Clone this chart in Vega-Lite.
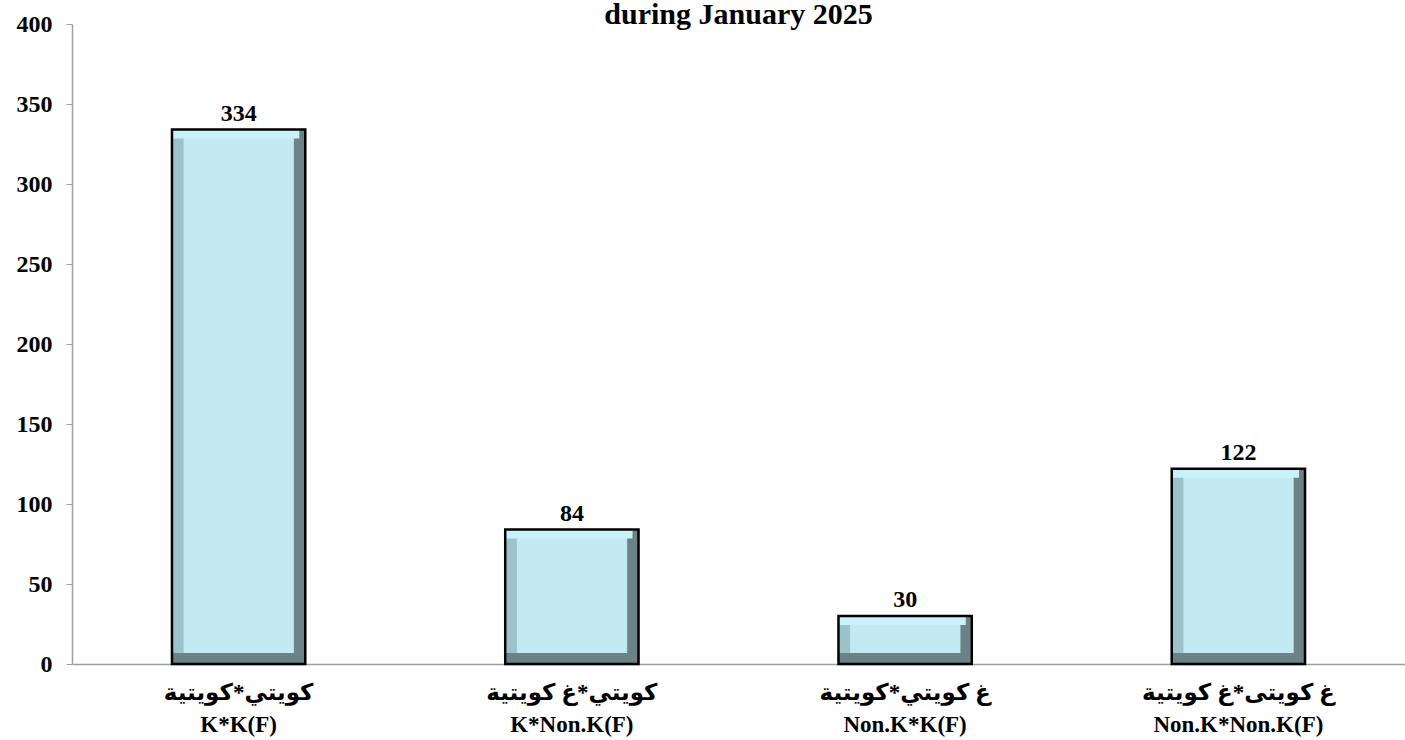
{
  "$schema": "https://vega.github.io/schema/vega-lite/v6.json",
  "width": 1333,
  "height": 640,
  "autosize": {"type": "none"},
  "padding": {"left": 72, "top": 24, "right": 0, "bottom": 76},
  "background": "white",
  "title": {
    "text": "during January 2025",
    "font": "Liberation Serif",
    "fontSize": 30,
    "fontWeight": "bold",
    "color": "black",
    "anchor": "middle",
    "frame": "group",
    "offset": -18
  },
  "data": {
    "values": [
      {"category": "كويتي*كويتية|K*K(F)", "value": 334},
      {"category": "كويتي*غ كويتية|K*Non.K(F)", "value": 84},
      {"category": "غ كويتي*كويتية|Non.K*K(F)", "value": 30},
      {"category": "غ كويتى*غ كويتية|Non.K*Non.K(F)", "value": 122}
    ]
  },
  "encoding": {
    "x": {
      "field": "category",
      "type": "nominal",
      "sort": null,
      "scale": {"paddingInner": 0.6, "paddingOuter": 0.3},
      "axis": {
        "title": null,
        "labelAngle": 0,
        "labelExpr": "split(datum.label, '|')",
        "labelFont": "Liberation Serif, DejaVu Sans",
        "labelFontSize": 23,
        "labelFontWeight": "bold",
        "labelColor": "black",
        "labelLineHeight": 32,
        "labelPadding": 17,
        "labelLimit": 0,
        "ticks": false,
        "domainColor": "#a0a0a0",
        "domainWidth": 1.5,
        "grid": false
      }
    },
    "y": {
      "field": "value",
      "type": "quantitative",
      "scale": {"domain": [0, 400], "nice": false},
      "axis": {
        "title": null,
        "values": [0, 50, 100, 150, 200, 250, 300, 350, 400],
        "labelFont": "Liberation Serif",
        "labelFontSize": 24,
        "labelFontWeight": "bold",
        "labelColor": "black",
        "labelPadding": 14,
        "tickSize": 6,
        "tickColor": "#a0a0a0",
        "domainColor": "#a0a0a0",
        "domainWidth": 1.5,
        "grid": false
      }
    }
  },
  "layer": [
    {
      "mark": {"type": "bar", "fill": "#6b8287", "width": {"band": 1}},
      "encoding": {"y2": {"datum": 0}}
    },
    {
      "mark": {"type": "bar", "fill": "#9dc2ca", "width": {"band": 0.915}, "xOffset": -5.5, "y2Offset": -11},
      "encoding": {"y2": {"datum": 0}}
    },
    {
      "mark": {"type": "bar", "fill": "#c3e9f3", "width": {"band": 0.825}, "y2Offset": -11},
      "encoding": {"y2": {"datum": 0}}
    },
    {
      "mark": {"type": "bar", "fill": "#c8f1fa", "width": {"band": 0.955}, "xOffset": -3, "y2Offset": 9},
      "encoding": {"y2": {"field": "value"}}
    },
    {
      "mark": {"type": "bar", "fill": null, "fillOpacity": 0, "stroke": "black", "strokeWidth": 2.5, "width": {"band": 1}},
      "encoding": {"y2": {"datum": 0}}
    },
    {
      "mark": {"type": "text", "font": "Liberation Serif", "fontSize": 24, "fontWeight": "bold", "color": "black", "baseline": "alphabetic", "dy": -9},
      "encoding": {"text": {"field": "value", "type": "quantitative"}}
    }
  ],
  "config": {"view": {"stroke": null}}
}
